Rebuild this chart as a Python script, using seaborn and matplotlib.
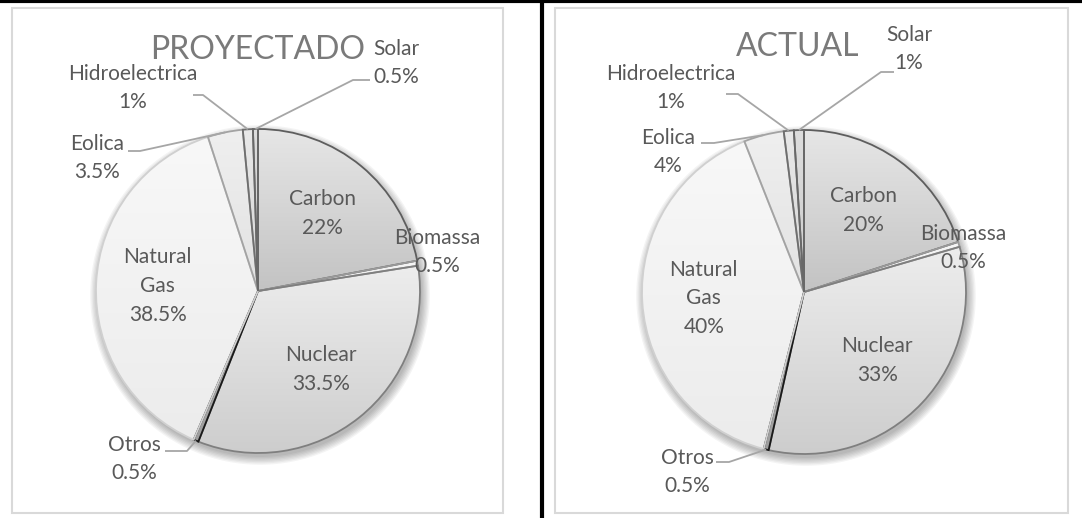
import matplotlib
matplotlib.use('Agg')
import matplotlib.pyplot as plt
import matplotlib.patches as mpatches
from matplotlib.colors import LinearSegmentedColormap
import seaborn as sns
import numpy as np

sns.set_theme(style='white')
plt.rcParams['font.family'] = ['Lato', 'DejaVu Sans']

# data
fuentes = ['Carbon', 'Biomassa', 'Nuclear', 'Otros', 'Natural Gas',
           'Eolica', 'Hidroelectrica', 'Solar']
proyectado = [22, 0.5, 33.5, 0.5, 38.5, 3.5, 1, 0.5]
actual = [20, 0.5, 33, 0.5, 40, 4, 1, 1]
titulos = ['PROYECTADO', 'ACTUAL']

# styles (top colour, bottom colour, edge colour)
estilos = {
    'Carbon': ('#e6e6e6', '#c3c3c3', '#5e5e5e'),
    'Biomassa': ('#f6f6f6', '#e9e9e9', '#9a9a9a'),
    'Nuclear': ('#ededed', '#cdcdcd', '#7f7f7f'),
    'Otros': ('#bdbdbd', '#9d9d9d', '#1a1a1a'),
    'Natural Gas': ('#f8f8f8', '#ececec', '#d0d0d0'),
    'Eolica': ('#efefef', '#e2e2e2', '#a3a3a3'),
    'Hidroelectrica': ('#e8e8e8', '#d6d6d6', '#6e6e6e'),
    'Solar': ('#dddddd', '#cbcbcb', '#686868'),
}
dentro = ['Carbon', 'Nuclear', 'Natural Gas']
nombres = {'Natural Gas': 'Natural\nGas'}

W, H = 1082, 518
R = 162
TXT = '#595959'

# layout in pixel coords (y down)
paneles = [
    dict(center=(258, 291), title_xy=(258, 50), box=(12, 8, 491, 505),
         fuera={
             'Biomassa': ((437, 252), None),
             'Otros': ((134, 459), [(187, 451), (165, 451)]),
             'Eolica': ((97, 158), [(140, 151), (128, 151)]),
             'Hidroelectrica': ((133, 88), [(203, 95), (193, 95)]),
             'Solar': ((396, 63), [(353, 80), (370, 80)]),
         }),
    dict(center=(804, 292), title_xy=(798, 47), box=(555, 8, 513, 505),
         fuera={
             'Biomassa': ((963, 248), None),
             'Otros': ((687, 472), [(729, 462), (716, 462)]),
             'Eolica': ((668, 152), [(714, 143), (701, 143)]),
             'Hidroelectrica': ((671, 88), [(738, 94), (726, 94)]),
             'Solar': ((909, 49), [(881, 72), (894, 72)]),
         }),
]

fig = plt.figure(figsize=(W / 100, H / 100), dpi=100)
ax = fig.add_axes([0, 0, 1, 1])


def draw_pie(ax, valores, titulo, p):
    cx, cy = p['center']
    bx, by, bw, bh = p['box']
    ax.add_patch(mpatches.Rectangle((bx, by), bw, bh, fill=False,
                                    edgecolor='#d9d9d9', lw=1.5, zorder=0))
    # soft shadow under the pie
    for k in range(7):
        ax.add_patch(mpatches.Circle((cx + 2, cy + 4), R + k * 1.3,
                                     color='black', alpha=0.045, lw=0,
                                     zorder=0.5))
    # y axis is inverted, so counterclock in data = clockwise on screen
    wedges, _ = ax.pie(valores, center=(cx, cy), radius=R, startangle=-90,
                       counterclock=True, frame=True,
                       wedgeprops=dict(linewidth=1.3))
    for w, nombre, v in zip(wedges, fuentes, valores):
        top, bottom, edge = estilos[nombre]
        w.set_facecolor('none')
        w.set_edgecolor(edge)
        w.set_zorder(2)
        verts = w.get_path().vertices
        x0, x1 = verts[:, 0].min(), verts[:, 0].max()
        y0, y1 = verts[:, 1].min(), verts[:, 1].max()
        cmap = LinearSegmentedColormap.from_list(nombre, [top, bottom])
        im = ax.imshow(np.linspace(0, 1, 100).reshape(-1, 1), cmap=cmap,
                       extent=(x0, x1, y1, y0), origin='upper',
                       aspect='auto', zorder=1, interpolation='bilinear')
        im.set_clip_path(w)

        ang = np.deg2rad((w.theta1 + w.theta2) / 2)
        etiqueta = f"{nombres.get(nombre, nombre)}\n{v:g}%"
        if nombre in dentro:
            tx = cx + 0.62 * R * np.cos(ang)
            ty = cy + 0.62 * R * np.sin(ang)
        else:
            (tx, ty), linea = p['fuera'][nombre]
            if linea is not None:
                px = cx + R * np.cos(ang)
                py = cy + R * np.sin(ang)
                xs = [px] + [q[0] for q in linea]
                ys = [py] + [q[1] for q in linea]
                ax.plot(xs, ys, color='#a6a6a6', lw=1.3, zorder=3,
                        solid_capstyle='butt')
        ax.text(tx, ty, etiqueta, ha='center', va='center',
                multialignment='center', fontsize=15, color=TXT,
                linespacing=1.55, zorder=4)

    ax.text(*p['title_xy'], titulo, ha='center', va='center',
            fontsize=23, color='#7a7a7a', zorder=4)


for valores, titulo, p in zip([proyectado, actual], titulos, paneles):
    draw_pie(ax, valores, titulo, p)

# black frame lines of the page
ax.plot([0, W], [1, 1], color='black', lw=3, zorder=5)
ax.plot([541.5, 541.5], [0, H], color='black', lw=3, zorder=5)

ax.set_xlim(0, W)
ax.set_ylim(H, 0)
ax.set_aspect('auto')
ax.axis('off')

fig.savefig('out.png', dpi=100, facecolor='white')
